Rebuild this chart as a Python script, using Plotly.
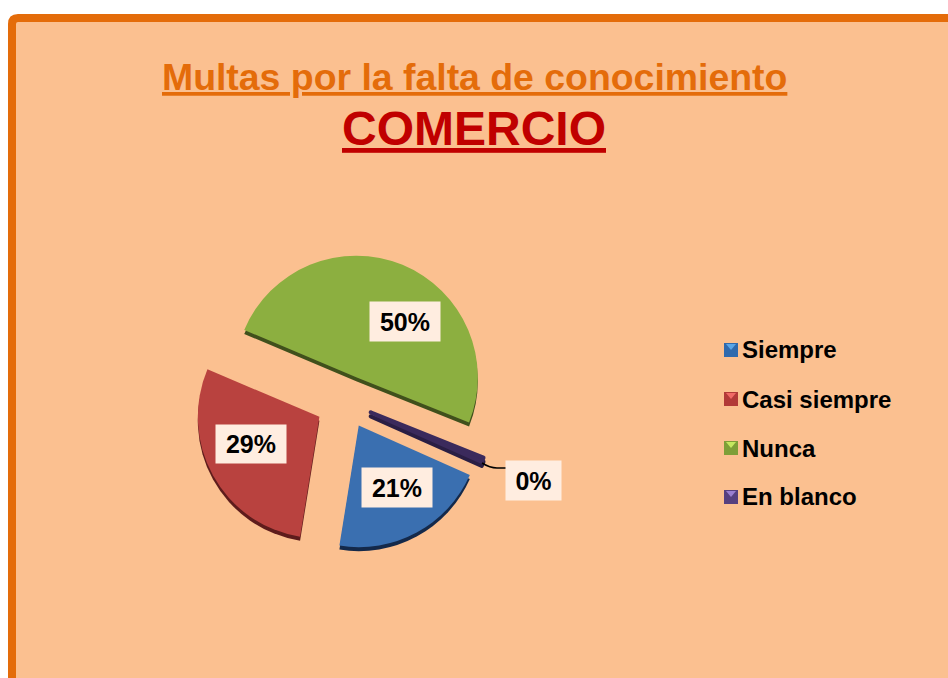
import plotly.graph_objects as go

categories = ["Siempre", "Casi siempre", "Nunca", "En blanco"]
values = [21, 29, 50, 0.6]
labels_pct = ["21%", "29%", "50%", "0%"]
colors = ["#3A6FB0", "#B9423F", "#8CAF40", "#3B2A5C"]
dark_colors = ["#14294A", "#5E1C1C", "#40501C", "#2A1E44"]
legend_colors = ["#2F6AAE", "#B23A38", "#7E9F38", "#56407F"]
legend_light = ["#5AA6E8", "#F06A66", "#C4E860", "#9A7FD0"]
pulls = [0.22, 0.25, 0.22, 0.22]
slice_lines = [0, 0, 0, 4]

W, H = 948, 678
px = lambda x: x / W
py = lambda y: 1 - y / H
FONT = "Liberation Sans"

def pie(cols, dy, line_widths):
    c = 402 + dy
    return go.Pie(
        labels=categories, values=values, sort=False, direction="clockwise",
        rotation=114, pull=pulls, textinfo="none", hoverinfo="label",
        showlegend=False,
        marker=dict(colors=cols, line=dict(width=line_widths, color=cols)),
        domain=dict(x=[0.2, 0.53], y=[py(c + 152), py(c - 152)]),
    )

fig = go.Figure([pie(dark_colors, 4, slice_lines), pie(colors, 0, slice_lines)])

label_boxes = [(397, 487, 70, 39), (251, 444, 70, 38), (405, 322, 70, 39), (533, 480, 55, 39)]
annos = []
for t, (x, y, w, h) in zip(labels_pct, label_boxes):
    annos.append(dict(text=f"<b>{t}</b>", x=px(x), y=py(y), xref="paper", yref="paper",
                      xanchor="center", yanchor="middle",
                      showarrow=False, bgcolor="#FFEDE0", width=w, height=h, borderpad=0,
                      align="center", valign="middle",
                      font=dict(family=FONT, size=25, color="black")))
annos.append(dict(text="<b><u>Multas por la falta de conocimiento</u></b>", x=px(474), y=py(77),
                  xref="paper", yref="paper", xanchor="center", yanchor="middle", showarrow=False,
                  font=dict(family=FONT, size=37.4, color="#E46C0A")))
annos.append(dict(text="<b><u>COMERCIO</u></b>", x=px(474), y=py(128), xref="paper", yref="paper",
                  xanchor="center", yanchor="middle",
                  showarrow=False, font=dict(family=FONT, size=48, color="#C00000")))

shapes = [dict(type="path", xref="paper", yref="paper", layer="below",
               path=f"M {px(12)},{py(700)} L {px(12)},{py(24)} Q {px(12)},{py(18)} {px(18)},{py(18)} "
                    f"L {px(970)},{py(18)} L {px(970)},{py(700)} Z",
               fillcolor="#FBC090", line=dict(color="#E46C0A", width=8))]

legend_y = [350, 399, 448, 497]
for name, y, c, lc in zip(categories, legend_y, legend_colors, legend_light):
    shapes.append(dict(type="rect", xref="paper", yref="paper", x0=px(724), x1=px(738),
                       y0=py(y + 7), y1=py(y - 7), fillcolor=c, line=dict(width=0)))
    shapes.append(dict(type="path", xref="paper", yref="paper",
                       path=f"M {px(726)},{py(y - 6)} L {px(736)},{py(y - 6)} L {px(731)},{py(y)} Z",
                       fillcolor=lc, line=dict(width=0)))
    annos.append(dict(text=f"<b>{name}</b>", x=px(740), y=py(y), xref="paper", yref="paper",
                      xanchor="left", yanchor="middle", showarrow=False,
                      font=dict(family=FONT, size=24, color="black")))

shapes.append(dict(type="path", xref="paper", yref="paper",
                   path=f"M {px(482)},{py(463)} Q {px(490)},{py(468)} {px(497)},{py(468)} L {px(506)},{py(468)}",
                   line=dict(color="black", width=1.5)))

fig.update_layout(width=W, height=H, margin=dict(l=0, r=0, t=0, b=0),
                  paper_bgcolor="white", annotations=annos, shapes=shapes, showlegend=False)
fig.write_html("out.html", config=dict(displayModeBar=False),
               post_script="document.body.style.margin='0';")
